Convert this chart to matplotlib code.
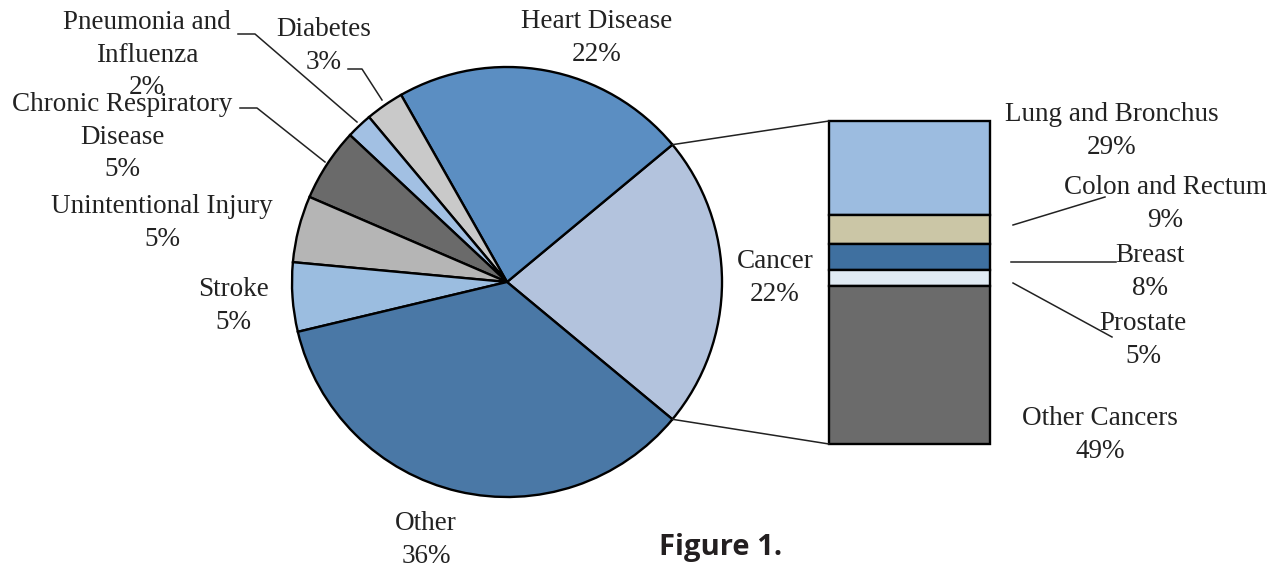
import matplotlib
matplotlib.use('Agg')
import matplotlib.pyplot as plt
from matplotlib.patches import ConnectionPatch
import numpy as np

# main pie: causes of death (shares, labels as printed)
causes = ['Cancer', 'Heart Disease', 'Diabetes', 'Pneumonia and\nInfluenza',
          'Chronic Respiratory\nDisease', 'Unintentional Injury', 'Stroke', 'Other']
shares = [22.05, 22.17, 2.89, 1.94, 5.5, 5.0, 5.19, 35.25]
pct_labels = ['22%', '22%', '3%', '2%', '5%', '5%', '5%', '36%']
pie_colors = ['#b3c3dd', '#5b8ec2', '#c9c9c9', '#a2c0e3',
              '#6a6a6a', '#b5b5b5', '#9bbde0', '#4a78a6']

# cancer breakdown bar (top to bottom)
cancers = ['Lung and Bronchus', 'Colon and Rectum', 'Breast', 'Prostate', 'Other Cancers']
cancer_pct = [29, 9, 8, 5, 49]
bar_colors = ['#9cbce0', '#cbc6a6', '#3f70a0', '#e0eaf3', '#6b6b6b']

W, H = 1283, 567
fig = plt.figure(figsize=(W / 100, H / 100), dpi=100)

# overlay in pixel coords for labels and leader lines
ov = fig.add_axes([0, 0, 1, 1])
ov.set_xlim(0, W)
ov.set_ylim(H, 0)
ov.axis('off')

# pie axes
cx, cy, r = 507, 282, 215
pad = 6
axp = fig.add_axes([(cx - r - pad) / W, (H - cy - r - pad) / H,
                    2 * (r + pad) / W, 2 * (r + pad) / H])
lim = (r + pad) / r
wedges, _ = axp.pie(shares, colors=pie_colors, startangle=-shares[0] / 100 * 180,
                    counterclock=True, radius=1,
                    wedgeprops=dict(edgecolor='black', linewidth=1.7))
axp.set_xlim(-lim, lim)
axp.set_ylim(-lim, lim)
axp.set_aspect('equal')
axp.axis('off')

# stacked bar axes
bx0, bx1, by0, by1 = 829, 990, 121, 444
axb = fig.add_axes([bx0 / W, (H - by1) / H, (bx1 - bx0) / W, (by1 - by0) / H])
bottoms = 100 - np.cumsum(cancer_pct)
for v, b, c in zip(cancer_pct, bottoms, bar_colors):
    axb.bar(0.5, v, width=1, bottom=b, color=c, edgecolor='black',
            linewidth=1.7, clip_on=False)
axb.set_xlim(0, 1)
axb.set_ylim(0, 100)
axb.axis('off')

# connectors from cancer wedge edges to the bar
cw = wedges[0]
for ang, yb in [(cw.theta2, 100), (cw.theta1, 0)]:
    p = (np.cos(np.radians(ang)), np.sin(np.radians(ang)))
    con = ConnectionPatch(xyA=p, coordsA=axp.transData, xyB=(0, yb),
                          coordsB=axb.transData, color='#222222', linewidth=1.1)
    fig.add_artist(con)

serif = ['Liberation Serif', 'DejaVu Serif']
fs = 19.5
ls = 1.4
label_pos = {
    'Cancer': (775, 278),
    'Heart Disease': (597, 38),
    'Diabetes': (324, 46),
    'Pneumonia and\nInfluenza': (147, 55),
    'Chronic Respiratory\nDisease': (122, 137),
    'Unintentional Injury': (162, 223),
    'Stroke': (233, 306),
    'Other': (426, 540),
}
for name, pct in zip(causes, pct_labels):
    x, y = label_pos[name]
    ov.text(x, y, name + '\n' + pct, ha='center', va='center',
            fontsize=fs, family=serif, color='#222222', linespacing=ls)

bar_label_pos = [(1112, 131), (1165, 204), (1150, 272), (1143, 340), (1100, 435)]
for name, pct, (x, y) in zip(cancers, cancer_pct, bar_label_pos):
    ov.text(x, y, f'{name}\n{pct}%', ha='center', va='center',
            fontsize=fs, family=serif, color='#222222', linespacing=ls)

# leader lines
leaders = [
    [(348, 69), (362, 69), (382, 100)],
    [(238, 34), (255, 34), (357, 122)],
    [(240, 108), (257, 108), (325, 162)],
    [(1013, 225), (1105, 197)],
    [(1011, 262), (1116, 262)],
    [(1013, 283), (1112, 337)],
]
for pts in leaders:
    xs, ys = zip(*pts)
    ov.plot(xs, ys, color='#222222', linewidth=1.1)

ov.text(721, 548, 'Figure 1.', ha='center', va='center', fontsize=21,
        fontweight='bold', family=['Open Sans', 'DejaVu Sans'], color='#231f20')

fig.savefig('out.png', dpi=100)
